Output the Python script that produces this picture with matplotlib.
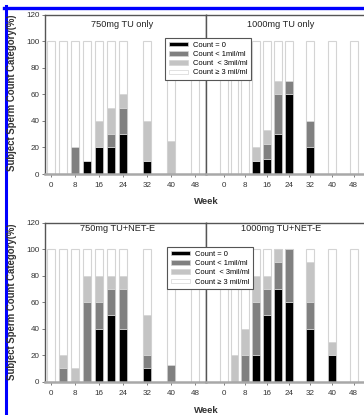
import numpy as np
import matplotlib
matplotlib.use("Agg")
import matplotlib.pyplot as plt
from matplotlib.lines import Line2D
from matplotlib.patches import Patch

plt.rcParams['font.family'] = ['Liberation Sans', 'DejaVu Sans']

# --- Data (percent of subjects per sperm-count category) ---
weeks = [0, 4, 8, 12, 16, 20, 24, 32, 40, 48]
tick_weeks = [0, 8, 16, 24, 32, 40, 48]

tu750_zero = [0, 0, 0, 10, 20, 20, 30, 10, 0, 0]
tu750_lt1 = [0, 0, 20, 0, 0, 10, 20, 0, 0, 0]
tu750_lt3 = [0, 0, 0, 0, 20, 20, 10, 30, 25, 0]

tu1000_zero = [0, 0, 0, 10, 11.1, 30, 60, 20, 0, 0]
tu1000_lt1 = [0, 0, 0, 0, 11.1, 30, 10, 20, 0, 0]
tu1000_lt3 = [0, 0, 0, 10, 11.1, 10, 0, 0, 0, 0]

net750_zero = [0, 0, 0, 0, 40, 50, 40, 10, 0, 0]
net750_lt1 = [0, 10, 0, 60, 20, 20, 30, 10, 12.5, 0]
net750_lt3 = [0, 10, 10, 20, 20, 10, 10, 30, 0, 0]

net1000_zero = [0, 0, 0, 20, 50, 70, 60, 40, 20, 0]
net1000_lt1 = [0, 0, 20, 40, 20, 20, 40, 20, 0, 0]
net1000_lt3 = [0, 20, 20, 20, 10, 10, 0, 30, 10, 0]

titles = ["750mg TU only", "1000mg TU only", "750mg TU+NET-E", "1000mg TU+NET-E"]
legend_labels = ["Count = 0", "Count < 1mil/ml", "Count  < 3mil/ml", "Count \u2265 3 mil/ml"]

# --- Style ---
W, H = 364, 415
C_ZERO, C_LT1, C_LT3, C_WHITE = '#000000', '#808080', '#c4c4c4', '#ffffff'
EDGE = '#d4d4d4'
SPINE = '#555555'
BAR_W = 2.9

fig = plt.figure(figsize=(W / 100, H / 100), dpi=100, facecolor='white')


def box(x0, x1, ytop, ybot):
    return [x0 / W, 1 - ybot / H, (x1 - x0) / W, (ybot - ytop) / H]


def draw_panel(ax, zero, lt1, lt3, title, tx, ty, xlim, left):
    x = np.array(weeks, dtype=float)
    zero, lt1, lt3 = np.array(zero), np.array(lt1), np.array(lt3)
    ax.bar(x, 100, BAR_W, color=C_WHITE, edgecolor=EDGE, lw=0.8, zorder=1)
    ax.bar(x, zero, BAR_W, color=C_ZERO, edgecolor=EDGE, lw=0.5, zorder=2)
    ax.bar(x, lt1, BAR_W, bottom=zero, color=C_LT1, edgecolor=EDGE, lw=0.5, zorder=2)
    ax.bar(x, lt3, BAR_W, bottom=zero + lt1, color=C_LT3, edgecolor=EDGE, lw=0.5, zorder=2)
    ax.set_xlim(*xlim)
    ax.set_ylim(0, 120)
    ax.set_xticks(tick_weeks)
    ax.set_yticks(range(0, 121, 20))
    ax.tick_params(axis='both', labelsize=5.8, labelcolor='#333333', length=2,
                   width=0.6, color='#666666', pad=2)
    ax.tick_params(axis='x', pad=4)
    if not left:
        ax.tick_params(axis='y', left=False, labelleft=False)
    for s in ['left', 'top', 'right']:
        ax.spines[s].set_color(SPINE)
        ax.spines[s].set_linewidth(1.0)
    ax.spines['bottom'].set_color('#a8a8a8')
    ax.spines['bottom'].set_linewidth(1.8)
    if not left:
        ax.spines['right'].set_visible(False)
    ax.text(tx, ty, title, transform=ax.transAxes, ha='center', va='center',
            fontsize=6.6, color='#222222')


panels = [
    (box(45, 206, 14.5, 174), tu750_zero, tu750_lt1, tu750_lt3, titles[0], 0.476, 0.94, (-2, 51.7), True),
    (box(206, 368, 14.5, 174), tu1000_zero, tu1000_lt1, tu1000_lt3, titles[1], 0.463, 0.94, (-6.5, 53.3), False),
    (box(45, 206, 222.7, 381.7), net750_zero, net750_lt1, net750_lt3, titles[2], 0.453, 0.963, (-2, 51.7), True),
    (box(206, 368, 222.7, 381.7), net1000_zero, net1000_lt1, net1000_lt3, titles[3], 0.463, 0.963, (-6.5, 53.3), False),
]
for rect, z, l1, l3, t, tx, ty, xl, left in panels:
    ax = fig.add_axes(rect)
    draw_panel(ax, z, l1, l3, t, tx, ty, xl, left)

# --- Legends ---
handles = [Patch(facecolor=c, edgecolor=EDGE, lw=0.5) for c in (C_ZERO, C_LT1, C_LT3, C_WHITE)]
for (x0, y0) in [(165, 38), (167, 247)]:
    leg = fig.legend(handles, legend_labels, loc='upper left',
                     bbox_to_anchor=(x0 / W, 1 - y0 / H), fontsize=5.4,
                     handlelength=2.6, handleheight=0.55, handletextpad=0.6,
                     labelspacing=0.3, borderpad=0.5, fancybox=False,
                     framealpha=1, edgecolor=SPINE, borderaxespad=0)
    leg.get_frame().set_linewidth(0.8)

# --- Axis labels ---
for yc in (201.7, 410):
    fig.text(206 / W, 1 - yc / H, "Week", ha='center', va='center',
             fontsize=6.8, fontweight='bold', color='#333333')
for yc in (93, 302):
    fig.text(12 / W, 1 - yc / H, "Subject Sperm Count Category(%)", rotation=90,
             ha='center', va='center', fontsize=6.9, fontweight='bold', color='#333333')

# --- Blue frame edges of the scan ---
fig.add_artist(Line2D([5.8 / W, 5.8 / W], [1 - 6 / H, 0], color='#0000ff', lw=2.2,
                      transform=fig.transFigure))
fig.add_artist(Line2D([4.3 / W, 1], [1 - 7.7 / H, 1 - 7.7 / H], color='#0000ff', lw=2.4,
                      transform=fig.transFigure))

fig.savefig("out.png", dpi=100)
